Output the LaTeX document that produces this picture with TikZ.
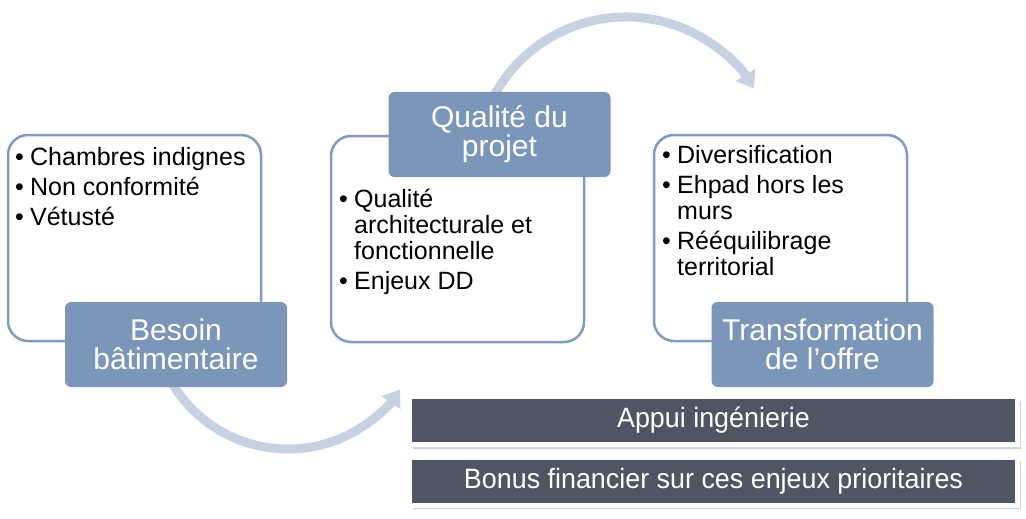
\documentclass[tikz,border=0pt]{standalone}
\usepackage{fontspec}
\setmainfont{Liberation Sans}
\newfontfamily\barfont[FakeStretch=0.96]{Liberation Sans}
\usetikzlibrary{arrows.meta}
\usetikzlibrary{shadows}
\definecolor{tagblue}{RGB}{123,150,185}
\definecolor{cardline}{RGB}{128,155,192}
\definecolor{flowblue}{RGB}{198,209,226}
\definecolor{bardark}{RGB}{79,85,98}
\newcommand{\puce}[1]{\makebox[15pt][l]{•}#1}
\newcommand{\suite}{\hspace*{15pt}}
\tikzset{card/.style={draw=cardline, line width=2.5pt, fill=white, rounded corners=20pt, minimum width=253pt, minimum height=206pt}}
\tikzset{tag/.style={fill=tagblue, rounded corners=6pt, minimum width=222pt, minimum height=85pt, text=white, align=center, font=\fontsize{30}{29}\selectfont}}
\tikzset{items/.style={anchor=north west, align=left, inner sep=0pt, font=\fontsize{25}{26}\selectfont}}
\tikzset{flow/.style={-{Triangle[width=22pt,length=16pt]}, line width=9pt, draw=flowblue}}
\tikzset{bar/.style={fill=bardark, draw=white, line width=5pt, minimum width=608pt, minimum height=48pt, text=white, font=\barfont\fontsize{28}{30}\selectfont, drop shadow={shadow xshift=3pt, shadow yshift=-4pt, fill=black, opacity=0.18}}}

\begin{document}
\begin{tikzpicture}[x=1pt, y=-1pt]
    \useasboundingbox (0,0) rectangle (1026,519);
    \node[card] (besoinbox) at (134.5,238) {};
    \node[card] (qualitebox) at (457.5,239) {};
    \node[card] (offrebox) at (780.5,238) {};
    \coordinate (flowa) at (171.1,381.5);
    \coordinate (flowb) at (492.4,98.9);
    \draw[flow] (flowa) arc[start angle=150, end angle=34, radius=135];
    \draw[flow] (flowb) arc[start angle=-153, end angle=-31.5, radius=150];
    \node[tag] (besoin) at (176,344.5) {Besoin\\bâtimentaire};
    \node[tag] (qualite) at (499.5,134.5) {Qualité du\\projet};
    \node[tag] (offre) at (822.5,344.5) {Transformation\\de l’offre};
    \node[items] (besoinlist) at (15,147) {\puce{Chambres indignes}\\[4pt] \puce{Non conformité}\\[4pt] \puce{Vétusté}};
    \node[items] (qualitelist) at (339,189) {\puce{Qualité}\\ \suite architecturale et\\ \suite fonctionnelle\\[4pt] \puce{Enjeux DD}};
    \node[items] (offrelist) at (662,145) {\puce{Diversification}\\[4pt] \puce{Ehpad hors les}\\ \suite murs\\[4pt] \puce{Rééquilibrage}\\ \suite territorial};
    \node[bar] (appui) at (713.5,420.5) {Appui ingénierie};
    \node[bar] (bonus) at (713.5,481) {Bonus financier sur ces enjeux prioritaires};
\end{tikzpicture}
\end{document}
